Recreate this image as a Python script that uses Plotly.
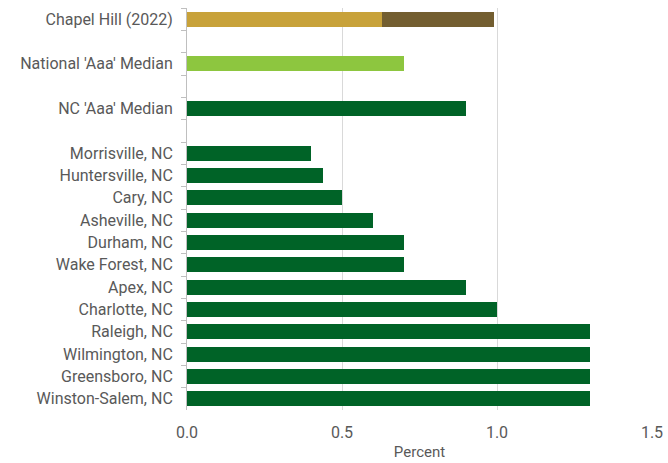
import plotly.graph_objects as go

categories = ["Chapel Hill (2022)", " ", "National 'Aaa' Median", "  ", "NC 'Aaa' Median", "   ",
              "Morrisville, NC", "Huntersville, NC", "Cary, NC", "Asheville, NC", "Durham, NC",
              "Wake Forest, NC", "Apex, NC", "Charlotte, NC", "Raleigh, NC", "Wilmington, NC",
              "Greensboro, NC", "Winston-Salem, NC"]

chapel_label = ["Chapel Hill (2022)"]
chapel_part1 = [0.63]
chapel_part2 = [0.36]

national_label = ["National 'Aaa' Median"]
national_value = [0.70]

nc_labels = ["NC 'Aaa' Median", "Morrisville, NC", "Huntersville, NC", "Cary, NC", "Asheville, NC",
             "Durham, NC", "Wake Forest, NC", "Apex, NC", "Charlotte, NC", "Raleigh, NC",
             "Wilmington, NC", "Greensboro, NC", "Winston-Salem, NC"]
nc_values = [0.90, 0.40, 0.44, 0.50, 0.60, 0.70, 0.70, 0.90, 1.00, 1.30, 1.30, 1.30, 1.30]

x_ticks = [0.0, 0.5, 1.0, 1.5]
x_ticktext = ["0.0", "0.5", "1.0", "1.5"]

fig = go.Figure()
fig.add_trace(go.Bar(y=chapel_label, x=chapel_part1, orientation="h",
                     marker=dict(color="#C8A23A", line=dict(width=0)), showlegend=False))
fig.add_trace(go.Bar(y=chapel_label, x=chapel_part2, orientation="h",
                     marker=dict(color="#735E30", line=dict(width=0)), showlegend=False))
fig.add_trace(go.Bar(y=national_label, x=national_value, orientation="h",
                     marker=dict(color="#8DC63F", line=dict(width=0)), showlegend=False))
fig.add_trace(go.Bar(y=nc_labels, x=nc_values, orientation="h",
                     marker=dict(color="#006327", line=dict(width=0)), showlegend=False))

fig.update_layout(
    width=668, height=463,
    margin=dict(l=187, r=16, t=8, b=53),
    barmode="stack",
    bargap=0.33,
    plot_bgcolor="white",
    paper_bgcolor="white",
    font=dict(family="Roboto", size=16, color="#595959"),
)
fig.update_xaxes(
    range=[0, 1.5],
    tickvals=x_ticks, ticktext=x_ticktext,
    showgrid=True, gridcolor="#D9D9D9", gridwidth=1,
    zeroline=False, showline=False,
    ticks="",
    automargin=False,
    tickfont=dict(size=16, color="#595959"),
    ticklabelstandoff=11,
    title=dict(text="Percent", font=dict(size=15, color="#595959"), standoff=5),
)
fig.update_yaxes(
    type="category",
    categoryorder="array", categoryarray=categories,
    range=[17.5, -0.5],
    tickson="boundaries",
    ticks="outside", ticklen=5, tickcolor="#BFBFBF",
    showline=True, linecolor="#BFBFBF", linewidth=1,
    showgrid=False,
    automargin=False,
    tickfont=dict(size=16, color="#595959"),
    ticklabelstandoff=10,
)

fig.write_html("out.html")
